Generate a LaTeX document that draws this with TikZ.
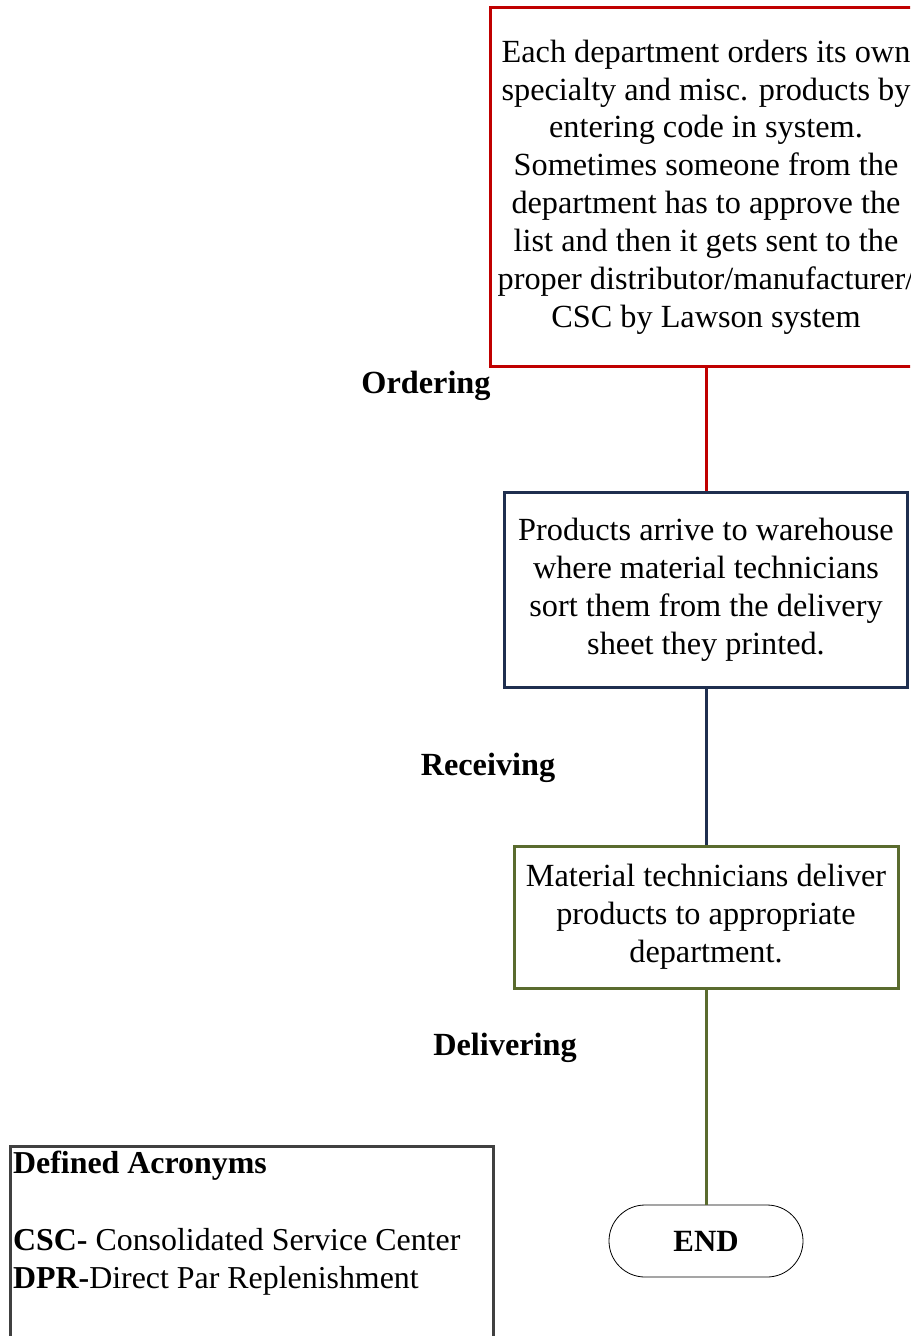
\documentclass[tikz,border=0pt]{standalone}
\usepackage{fontspec}
\setmainfont{Liberation Serif}
\usetikzlibrary{positioning}
\definecolor{ordred}{HTML}{C00000}
\definecolor{recblue}{HTML}{1F2F4F}
\definecolor{delgreen}{HTML}{5A6B2E}
\definecolor{acrgray}{HTML}{404040}
\begin{document}
\begin{tikzpicture}[x=1bp,y=-1bp,
  stepbox/.style={draw, line width=3bp, fill=white, align=center, inner sep=0pt,
    font=\fontsize{32.4}{38}\selectfont},
  link/.style={line width=3bp},
  phase/.style={font=\fontsize{32.4}{36}\selectfont\bfseries, inner sep=0pt},
  endbox/.style={draw, line width=0.8bp, rounded corners=36bp, minimum width=194bp,
    minimum height=72bp, inner sep=0pt, font=\fontsize{31}{36}\selectfont\bfseries}]
\useasboundingbox (0,0) rectangle (910,1336);
\clip (0,0) rectangle (910,1336);

% process steps
\node[stepbox, draw=ordred, minimum width=432bp, minimum height=358bp] (order) at (706,187)
  {Each department orders its own\\ specialty and misc. products by\\ entering code in system.\\
   Sometimes someone from the\\ department has to approve the\\ list and then it gets sent to the\\
   proper distributor/manufacturer/\\ CSC by Lawson system};
\node[stepbox, draw=recblue, minimum width=403bp, minimum height=195bp] (receive) at (706,589.5)
  {Products arrive to warehouse\\ where material technicians\\ sort them from the delivery\\ sheet they printed.};
\node[stepbox, draw=delgreen, minimum width=384bp, minimum height=142bp] (deliver) at (706,917)
  {Material technicians deliver\\ products to appropriate\\ department.};
\node[endbox] (end) at (706,1241) {END};

% connectors
\draw[link, ordred] (order.south) -- (receive.north);
\draw[link, recblue] (receive.south) -- (deliver.north);
\draw[link, delgreen] (deliver.south) -- (end.north);

% phase labels
\node[phase] (lord) at (426,386) {Ordering};
\node[phase] (lrec) at (488,768) {Receiving};
\node[phase] (ldel) at (505,1048) {Delivering};

% acronym legend
\node[draw=acrgray, line width=3bp, minimum width=483bp, minimum height=220bp, inner sep=0pt,
  anchor=north west] (legend) at (9,1145) {};
\node[anchor=north west, align=left, inner sep=0pt, font=\fontsize{32}{38.5}\selectfont]
  (legtext) at (13,1151)
  {\textbf{Defined Acronyms}\\ \mbox{}\\ \textbf{CSC-} Consolidated Service Center\\ \textbf{DPR-}Direct Par Replenishment};
\end{tikzpicture}
\end{document}
